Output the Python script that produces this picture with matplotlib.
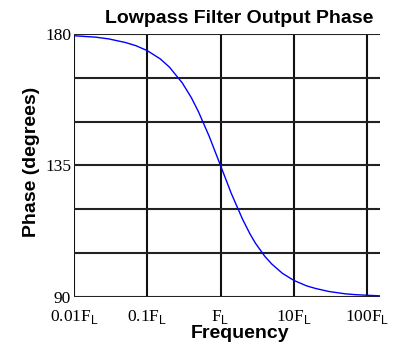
import matplotlib
matplotlib.use('Agg')
from matplotlib import pyplot as plt

# Czestotliwosc (w jednostkach F_L) i faza w stopniach
freq = [0.01, 0.02, 0.03, 0.05, 0.07, 0.1, 0.15, 0.2, 0.3, 0.4, 0.5, 0.7,
        1.0, 1.4, 2.0, 2.5, 3.0, 4.0, 5.0, 7.0, 10, 15, 20, 30, 50, 70, 100, 150]
phase = [179.4, 178.9, 178.3, 177.1, 176.0, 174.3, 171.5, 168.7, 163.3, 158.2,
         153.4, 145.0, 135.0, 125.5, 116.6, 111.8, 108.4, 104.0, 101.3, 98.1,
         95.7, 93.8, 92.9, 91.9, 91.1, 90.8, 90.6, 90.4]

x_ticks = [0.01, 0.1, 1, 10, 100]
x_labels = ['0.01F$_\\mathsf{L}$', '0.1F$_\\mathsf{L}$', 'F$_\\mathsf{L}$',
            '10F$_\\mathsf{L}$', '100F$_\\mathsf{L}$']
y_grid = [90, 105, 120, 135, 150, 165, 180]
y_ticks = [90, 135, 180]

plt.rcParams['mathtext.fontset'] = 'custom'
plt.rcParams['mathtext.sf'] = 'Liberation Sans'
plt.rcParams['mathtext.rm'] = 'Liberation Serif'

fig = plt.figure(figsize=(3.97, 3.5), dpi=100)
ax = fig.add_axes([0.1864, 0.1514, 0.7706, 0.7515])

ax.plot(freq, phase, color='#0000ff', linewidth=1.0, zorder=3)

ax.set_xscale('log')
ax.set_xlim(0.01, 150)
ax.set_ylim(90, 180)

# Siatka
for xv in x_ticks:
    ax.axvline(xv, color='#111111', linewidth=1.5, zorder=1)
for yv in y_grid:
    ax.axhline(yv, color='#222222', linewidth=1.5, zorder=1)

ax.set_xticks(x_ticks)
ax.set_xticklabels(x_labels, fontfamily='Liberation Serif', fontsize=12.5)
ax.minorticks_off()
ax.set_yticks(y_ticks)
ax.set_yticklabels([str(v) for v in y_ticks], fontfamily='Liberation Serif', fontsize=12.5)
ax.tick_params(length=0, pad=2)
ax.tick_params(axis='x', pad=8)

for s in ax.spines.values():
    s.set_visible(False)

# Podpisy osi i tytul - pozycje dopasowane do oryginalu
fig.text(240 / 397, 1 - 338 / 350, 'Frequency', fontfamily='Liberation Sans',
         fontweight='bold', fontsize=14, ha='center', va='baseline')
fig.text(32 / 397, 1 - 162 / 350, 'Phase (degrees)', fontfamily='Liberation Sans',
         fontweight='bold', fontsize=14, ha='center', va='center', rotation=90)
fig.text(239 / 397, 1 - 23 / 350, 'Lowpass Filter Output Phase',
         fontfamily='Liberation Sans', fontweight='bold', fontsize=14,
         ha='center', va='baseline')

plt.savefig('out.png', dpi=100)
plt.close()
